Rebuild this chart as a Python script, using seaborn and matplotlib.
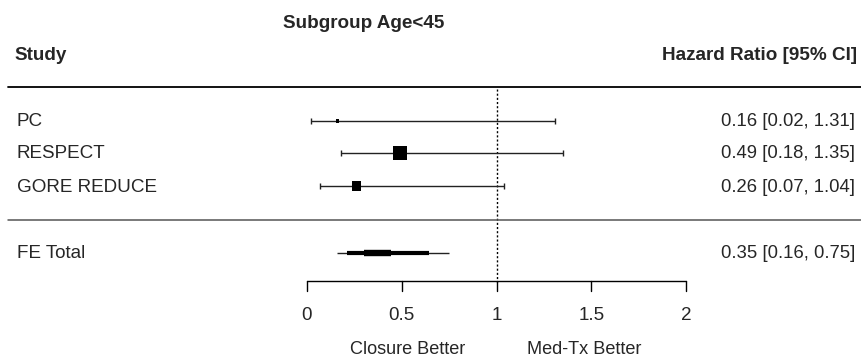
import matplotlib
matplotlib.use("Agg")
import matplotlib.pyplot as plt
import seaborn as sns
import pandas as pd

# ---- data ----
studies = ["PC", "RESPECT", "GORE REDUCE"]
hr = [0.16, 0.49, 0.26]
ci_low = [0.02, 0.18, 0.07]
ci_high = [1.31, 1.35, 1.04]
weights = [6, 100, 45]          # relative study weights (marker area)
total_label = "FE Total"
total_hr = 0.35
total_low = 0.16
total_high = 0.75
ticks = [0, 0.5, 1, 1.5, 2]
tick_labels = ["0", "0.5", "1", "1.5", "2"]

sns.set_theme(style="white")
plt.rcParams['font.family'] = ['Liberation Sans', 'DejaVu Sans']

W, H = 861, 359
fig = plt.figure(figsize=(W / 100, H / 100), dpi=100)
ax = fig.add_axes([0, 0, 1, 1])

# x: HR units; pixel = 307 + 189.5 * value
x0, xs = 307.0, 189.5
ax.set_xlim(-x0 / xs, (W - x0) / xs)
ax.set_ylim(H, 0)   # y in pixel rows (top = 0)
ax.axis("off")

def dx(p):
    return (p - x0) / xs  # pixel column -> data x

row_y = [121, 153, 186]
total_y = 253
fs = 13.6
fs_r = 13.3
ty = 1  # small downward text offset

df = pd.DataFrame({"study": studies, "hr": hr, "lo": ci_low, "hi": ci_high,
                   "w": weights, "y": row_y})

# reference line at 1
ax.plot([1, 1], [89, 282], color="black", lw=1, ls=(0, (1.5, 1.5)), zorder=1)

# CIs
ax.errorbar(df["hr"], df["y"], xerr=[df["hr"] - df["lo"], df["hi"] - df["hr"]],
            fmt="none", ecolor="#222222", elinewidth=1, capsize=2.2, capthick=1, zorder=2)
sns.scatterplot(data=df, x="hr", y="y", size="w", sizes=(min(weights), max(weights)),
                size_norm=(min(weights), max(weights)),
                marker="s", color="black", edgecolor="black", linewidth=0,
                legend=False, ax=ax, zorder=3)

# summary (stepped, thin diamond)
lh = total_hr - total_low
rh = total_high - total_hr
ax.plot([total_low, total_high], [total_y, total_y], color="#222222", lw=1.0,
        solid_capstyle="butt", zorder=3)
ax.plot([total_low + 0.26 * lh, total_hr + 0.73 * rh], [total_y, total_y],
        color="black", lw=3.0, solid_capstyle="butt", zorder=3)
ax.plot([total_low + 0.74 * lh, total_hr + 0.23 * rh], [total_y, total_y],
        color="black", lw=4.6, solid_capstyle="butt", zorder=3)

# horizontal rules
ax.plot([dx(8), dx(W)], [87, 87], color="black", lw=1.3, zorder=1)
ax.plot([dx(8), dx(W)], [220, 220], color="#555555", lw=1.1, zorder=1)

# x axis
ax.plot([ticks[0], ticks[-1]], [281, 281], color="black", lw=1)
for t, lab in zip(ticks, tick_labels):
    ax.plot([t, t], [281, 291], color="black", lw=1)
    ax.text(t, 315 + ty, lab, ha="center", va="center", fontsize=fs)
ax.text(dx(408), 348 + ty, "Closure Better", ha="center", va="center", fontsize=fs - 0.5)
ax.text(dx(584), 348 + ty, "Med-Tx Better", ha="center", va="center", fontsize=fs - 0.5)

# labels
left_x = dx(17)
right_x = dx(855)
for name, y, h, lo, hi in zip(studies, row_y, hr, ci_low, ci_high):
    ax.text(left_x, y + ty, name, ha="left", va="center", fontsize=fs)
    ax.text(right_x, y + ty, f"{h:.2f} [{lo:.2f}, {hi:.2f}]", ha="right", va="center",
            fontsize=fs_r)
ax.text(left_x, total_y + ty, total_label, ha="left", va="center", fontsize=fs)
ax.text(right_x, total_y + ty, f"{total_hr:.2f} [{total_low:.2f}, {total_high:.2f}]",
        ha="right", va="center", fontsize=fs_r)

# headers
ax.text(dx(14), 55 + ty, "Study", ha="left", va="center", fontsize=fs, fontweight="bold")
ax.text(dx(857), 55 + ty, "Hazard Ratio [95% CI]", ha="right", va="center",
        fontsize=fs, fontweight="bold")
ax.text(dx(364), 22 + ty, "Subgroup Age<45", ha="center", va="center",
        fontsize=fs, fontweight="bold")

fig.savefig("out.png", dpi=100)
